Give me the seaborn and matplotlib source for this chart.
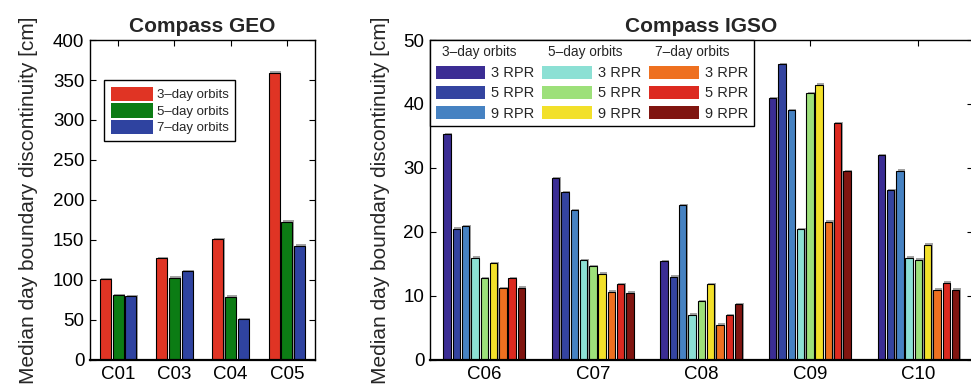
import numpy as np
import pandas as pd
import seaborn as sns
import matplotlib.pyplot as plt
import matplotlib.patheffects as pe
from matplotlib.patches import Patch

# ---- data ----
geo_sats = ['C01', 'C03', 'C04', 'C05']
geo_orbits = ['3–day orbits', '5–day orbits', '7–day orbits']
geo_3day = [101, 127, 151, 359]
geo_5day = [81, 103, 79, 173]
geo_7day = [80, 111, 51, 143]
geo_colors = ['#e03424', '#0c7c14', '#2f43a0']

igso_sats = ['C06', 'C07', 'C08', 'C09', 'C10']
igso_series = ['3d 3 RPR', '3d 5 RPR', '3d 9 RPR',
               '5d 3 RPR', '5d 5 RPR', '5d 9 RPR',
               '7d 3 RPR', '7d 5 RPR', '7d 9 RPR']
igso_vals = {
    '3d 3 RPR': [35.3, 28.4, 15.4, 40.9, 32.0],
    '3d 5 RPR': [20.5, 26.2, 13.0, 46.2, 26.5],
    '3d 9 RPR': [20.9, 23.4, 24.2, 39.0, 29.6],
    '5d 3 RPR': [16.0, 15.6, 7.1, 20.4, 16.0],
    '5d 5 RPR': [12.8, 14.7, 9.2, 41.7, 15.7],
    '5d 9 RPR': [15.1, 13.5, 11.8, 43.0, 18.0],
    '7d 3 RPR': [11.2, 10.7, 5.5, 21.6, 11.0],
    '7d 5 RPR': [12.8, 11.8, 7.0, 37.0, 12.1],
    '7d 9 RPR': [11.3, 10.5, 8.7, 29.5, 11.0],
}
igso_colors = ['#3b2d94', '#3444a0', '#4682c2',
               '#8ce0d4', '#9de07a', '#f2e02a',
               '#ee7020', '#dc2a20', '#801510']
igso_groups = ['3–day orbits', '5–day orbits', '7–day orbits']
rpr_labels = ['3 RPR', '5 RPR', '9 RPR']

sns.set_style('ticks')
plt.rcParams['font.family'] = ['Liberation Sans', 'DejaVu Sans']

fig = plt.figure(figsize=(9.71, 3.88), dpi=100)
ax1 = fig.add_axes([0.0927, 0.0722, 0.2317, 0.8247])
ax2 = fig.add_axes([0.4428, 0.0722, 0.5590, 0.8247])

geo_df = pd.DataFrame({
    'sat': geo_sats * 3,
    'orbit': np.repeat(geo_orbits, len(geo_sats)),
    'value': geo_3day + geo_5day + geo_7day,
})
sns.barplot(data=geo_df, x='sat', y='value', hue='orbit', hue_order=geo_orbits,
            palette=geo_colors, width=0.68, gap=0.15, edgecolor='black',
            linewidth=0.8, saturation=1, legend=False, ax=ax1)

igso_df = pd.DataFrame({
    'sat': igso_sats * len(igso_series),
    'series': np.repeat(igso_series, len(igso_sats)),
    'value': np.concatenate([igso_vals[s] for s in igso_series]),
})
sns.barplot(data=igso_df, x='sat', y='value', hue='series', hue_order=igso_series,
            palette=igso_colors, width=0.77, gap=0.2, edgecolor='black',
            linewidth=0.8, saturation=1, legend=False, ax=ax2)

for ax in (ax1, ax2):
    for p in ax.patches:
        p.set_path_effects([pe.SimplePatchShadow(offset=(1, 1), shadow_rgbFace='0.55', alpha=0.8),
                            pe.Normal()])
    ax.set_xlim(-0.5, len(ax.get_xticks()) - 0.5)
    ax.tick_params(direction='in', top=True, right=True, length=4, width=0.8,
                   labelsize=13.5, colors='black', pad=4)
    for s in ax.spines.values():
        s.set_visible(True)
        s.set_linewidth(1.0)
        s.set_color('black')
    ax.spines['bottom'].set_linewidth(1.6)
    ax.set_xlabel('')
    ax.set_ylabel('Median day boundary discontinuity [cm]', fontsize=15)

ax1.set_ylim(0, 400)
ax1.set_yticks(np.arange(0, 401, 50))
ax1.set_title('Compass GEO', fontsize=15, fontweight='bold', pad=6)
ax1.yaxis.labelpad = 11

ax2.set_ylim(0, 50)
ax2.set_yticks(np.arange(0, 51, 10))
ax2.set_title('Compass IGSO', fontsize=15, fontweight='bold', pad=6)
ax2.yaxis.labelpad = 10

# GEO legend
geo_handles = [Patch(facecolor=c, edgecolor='none') for c in geo_colors]
leg1 = ax1.legend(geo_handles, geo_orbits, loc='upper left', bbox_to_anchor=(0.062, 0.875),
                  borderaxespad=0, fontsize=9.5, handlelength=3.2, handleheight=1.3,
                  labelspacing=0.15, handletextpad=0.3, borderpad=0.5,
                  fancybox=False, framealpha=1, edgecolor='black')
leg1.get_frame().set_linewidth(1.0)

# IGSO legend: three columns, each headed by a title row
blank = Patch(facecolor='none', edgecolor='none')
igso_handles, igso_labels = [], []
for g in range(3):
    igso_handles.append(blank)
    igso_labels.append('')
    for k in range(3):
        igso_handles.append(Patch(facecolor=igso_colors[3 * g + k], edgecolor='none'))
        igso_labels.append(rpr_labels[k])
leg2 = ax2.legend(igso_handles, igso_labels, ncol=3, loc='upper left', bbox_to_anchor=(0, 1),
                  borderaxespad=0, fontsize=10.5, handlelength=3.4, handleheight=1.0,
                  labelspacing=0.38, handletextpad=0.4, columnspacing=0.55, borderpad=0.4,
                  fancybox=False, framealpha=1, edgecolor='black')
leg2.get_frame().set_linewidth(1.0)

fig.canvas.draw()
inv = fig.transFigure.inverted()
for g in range(3):
    hb = leg2.legend_handles[4 * g + 1].get_window_extent()
    tb = leg2.legend_handles[4 * g].get_window_extent()
    x0, _ = inv.transform((hb.x0 + 6, 0))
    _, yc = inv.transform((0, (tb.y0 + tb.y1) / 2))
    fig.text(x0, yc, igso_groups[g], fontsize=9.8, va='center', ha='left')

fig.savefig('out.png', dpi=100)
